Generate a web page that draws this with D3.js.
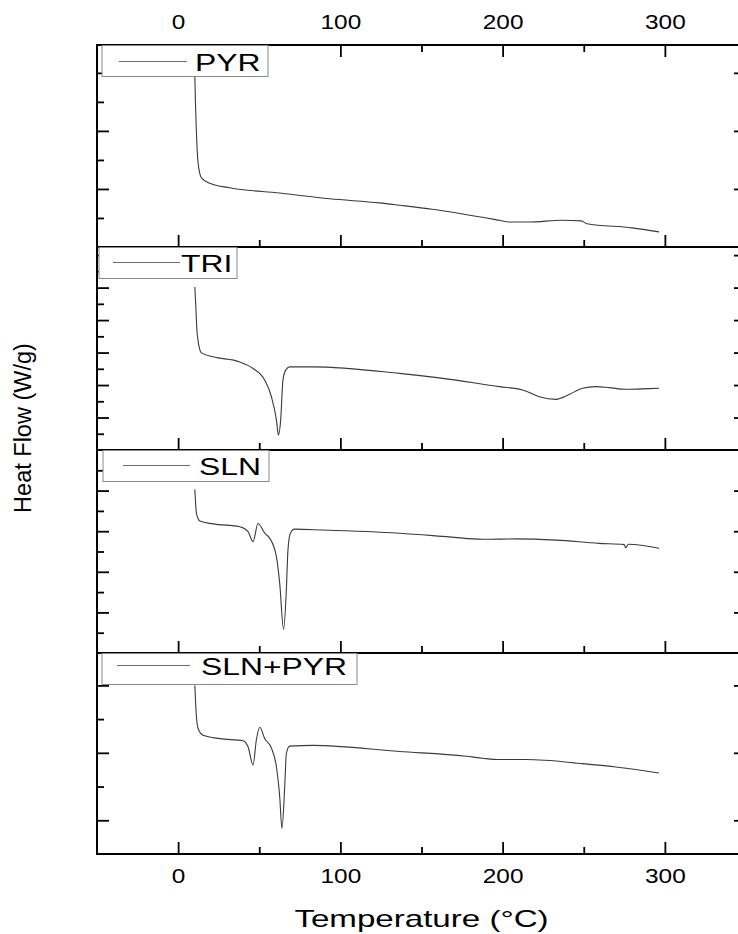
<!DOCTYPE html>
<html>
<head>
<meta charset="utf-8">
<script src="https://cdn.jsdelivr.net/npm/d3@7"></script>
<style>
  html, body { margin: 0; padding: 0; background: #fff; }
  svg { display: block; }
  text { font-family: "Liberation Sans", Arial, sans-serif; fill: #000; }
</style>
</head>
<body>
<svg id="chart" width="738" height="934"></svg>
<script>
// ---------- data ----------
const tempMajorTicks = [0, 100, 200, 300];
const tempMinorTicks = [50, 150, 250];
const tempDomain = [-50, 350];

const seriesNames = ["PYR", "TRI", "SLN", "SLN+PYR"];

const pyrT  = [10.0, 10.3, 11.3, 12.3, 14.4, 19.5, 31.8, 62.6, 93.4, 124.1, 136.4, 156.7, 198.0, 204.0, 216.4, 236.7, 248.4, 252.0, 279.8, 296.4];
const pyrHF = [3.45, 2.94, 1.96, 1.45, 1.19, 1.10, 1.02, 0.93, 0.83, 0.76, 0.72, 0.65, 0.46, 0.43, 0.43, 0.46, 0.45, 0.40, 0.33, 0.26];

const triT  = [10.3, 10.9, 11.7, 14.4, 21.5, 38.0, 46.2, 53.4, 57.5, 60.6, 61.8, 63.2, 64.6, 66.3, 68.7, 83.1, 136.4, 161.0, 198.0, 212.4, 222.6, 232.9, 241.0, 249.2, 257.5, 265.7, 275.9, 290.3, 296.4];
const triHF = [5.02, 4.41, 3.60, 2.99, 2.87, 2.71, 2.51, 2.15, 1.64, 0.92, 0.46, 0.92, 2.15, 2.46, 2.56, 2.56, 2.36, 2.22, 1.95, 1.85, 1.64, 1.56, 1.71, 1.90, 1.95, 1.92, 1.87, 1.89, 1.90];

const slnT  = [10.3, 11.3, 13.4, 21.5, 38.0, 43.1, 46.2, 49.2, 53.4, 56.4, 60.6, 62.6, 65.0, 66.7, 67.7, 69.2, 71.8, 89.2, 136.4, 167.2, 187.7, 208.2, 232.9, 259.5, 274.9, 275.9, 277.5, 296.4];
const slnHF = [4.03, 3.44, 3.25, 3.18, 3.11, 2.99, 2.74, 3.19, 2.95, 2.83, 2.37, 1.72, 0.58, 1.55, 2.54, 2.95, 3.05, 3.03, 2.95, 2.86, 2.80, 2.81, 2.78, 2.70, 2.67, 2.59, 2.68, 2.58];

const slnPyrT  = [10.3, 10.9, 12.3, 15.4, 25.7, 40.0, 43.1, 46.2, 48.2, 50.3, 53.4, 57.5, 60.6, 62.6, 64.0, 65.7, 66.7, 68.7, 83.1, 136.4, 177.5, 187.7, 198.0, 214.4, 249.2, 269.8, 296.4];
const slnPyrHF = [2.00, 1.68, 1.36, 1.26, 1.21, 1.18, 1.09, 0.82, 1.19, 1.38, 1.21, 1.07, 0.79, 0.35, -0.12, 0.50, 0.99, 1.10, 1.11, 1.02, 0.95, 0.92, 0.90, 0.90, 0.84, 0.79, 0.70];

// y domains and tick values for each stacked panel (W/g, offset)
const yDomains = [[0, 3.48], [0, 6.25], [0, 5.0], [-0.5, 2.48]];
const yMajorTicks = [[1, 2, 3], [1, 2, 3, 4, 5, 6], [1, 2, 3, 4], [0, 1, 2]];
const yMinorTicks = [[0.5, 1.5, 2.5], [0.5, 1.5, 2.5, 3.5, 4.5, 5.5], [0.5, 1.5, 2.5, 3.5, 4.5], [0.5, 1.5]];

const seriesT  = [pyrT, triT, slnT, slnPyrT];
const seriesHF = [pyrHF, triHF, slnHF, slnPyrHF];

// ---------- layout ----------
const svg = d3.select("#chart");
const left = 97, right = 746;
const panelEdges = [45, 247, 450, 653, 854];
const legendBoxes = [
  { x: 102, w: 166, y: 45,  lx1: 119, lx2: 187, tx: 195, ty: 71 },
  { x: 99,  w: 138, y: 247, lx1: 113, lx2: 180, tx: 181, ty: 272 },
  { x: 103, w: 166, y: 450, lx1: 123, lx2: 190, tx: 199, ty: 475 },
  { x: 102, w: 255, y: 653, lx1: 117, lx2: 190, tx: 201, ty: 675 }
];

const x = d3.scaleLinear().domain(tempDomain).range([left, right]);

function styleAxis(g) {
  g.select(".domain").remove();
  g.selectAll(".tick line").attr("stroke", "#000").attr("stroke-width", 1.8);
}

for (let i = 0; i < 4; i++) {
  const top = panelEdges[i], bottom = panelEdges[i + 1];
  const y = d3.scaleLinear().domain(yDomains[i]).range([bottom, top]);
  const g = svg.append("g");

  // curve
  const pts = seriesT[i].map((t, k) => [t, seriesHF[i][k]]);
  g.append("path")
    .datum(pts)
    .attr("fill", "none")
    .attr("stroke", "#3a3a3a")
    .attr("stroke-width", 1.1)
    .attr("d", d3.line().x(d => x(d[0])).y(d => y(d[1])).curve(d3.curveMonotoneX));

  // bottom ticks (inward)
  const isLast = i === 3;
  const bMaj = g.append("g").attr("transform", `translate(0,${bottom})`)
    .call(d3.axisBottom(x).tickValues(tempMajorTicks).tickSizeInner(-12).tickSizeOuter(0)
      .tickPadding(15.5).tickFormat(isLast ? d3.format("d") : () => ""));
  styleAxis(bMaj);
  g.append("g").attr("transform", `translate(0,${bottom})`)
    .call(d3.axisBottom(x).tickValues(tempMinorTicks).tickSizeInner(-7).tickSizeOuter(0).tickFormat(() => ""))
    .call(styleAxis);

  if (i === 0) {
    const tMaj = g.append("g").attr("transform", `translate(0,${top})`)
      .call(d3.axisTop(x).tickValues(tempMajorTicks).tickSizeInner(-12).tickSizeOuter(0)
        .tickPadding(16).tickFormat(d3.format("d")));
    styleAxis(tMaj);
    g.append("g").attr("transform", `translate(0,${top})`)
      .call(d3.axisTop(x).tickValues(tempMinorTicks).tickSizeInner(-7).tickSizeOuter(0).tickFormat(() => ""))
      .call(styleAxis);
  }

  // y ticks left & right (inward, no labels)
  [[d3.axisLeft, left, -12, -7], [d3.axisRight, right, -12, -7]].forEach(([ax, px, maj, mn]) => {
    g.append("g").attr("transform", `translate(${px},0)`)
      .call(ax(y).tickValues(yMajorTicks[i]).tickSizeInner(maj).tickSizeOuter(0).tickFormat(() => ""))
      .call(styleAxis);
    g.append("g").attr("transform", `translate(${px},0)`)
      .call(ax(y).tickValues(yMinorTicks[i]).tickSizeInner(mn).tickSizeOuter(0).tickFormat(() => ""))
      .call(styleAxis);
  });

  // frame
  g.append("rect")
    .attr("x", left).attr("y", top)
    .attr("width", right - left).attr("height", bottom - top)
    .attr("fill", "none").attr("stroke", "#000").attr("stroke-width", 2);

  // legend
  const lb = legendBoxes[i];
  g.append("rect")
    .attr("x", lb.x).attr("y", lb.y + 0.5).attr("width", lb.w).attr("height", 31)
    .attr("fill", "#fff").attr("stroke", "#8a8a8a").attr("stroke-width", 1);
  g.append("line")
    .attr("x1", lb.lx1).attr("x2", lb.lx2).attr("y1", lb.ty - 9.5).attr("y2", lb.ty - 9.5)
    .attr("stroke", "#6e6e6e").attr("stroke-width", 1.1);
  g.append("text")
    .attr("transform", `translate(${lb.tx},${lb.ty}) scale(1.3,1)`)
    .style("font-size", "24.5px")
    .text(seriesNames[i]);
}

// stretch tick labels horizontally as in reference
svg.selectAll(".tick text")
  .attr("transform", "scale(1.25,1)")
  .style("font-size", "19.5px")
  .attr("font-family", null)
  .attr("fill", "#000");

// axis titles
svg.append("text")
  .attr("transform", `translate(${(left + right) / 2},927) scale(1.38,1)`)
  .attr("text-anchor", "middle")
  .style("font-size", "24px")
  .text("Temperature (°C)");

svg.append("text")
  .attr("transform", "translate(31,428) rotate(-90)")
  .attr("text-anchor", "middle")
  .style("font-size", "23.5px")
  .text("Heat Flow (W/g)");
</script>
</body>
</html>
